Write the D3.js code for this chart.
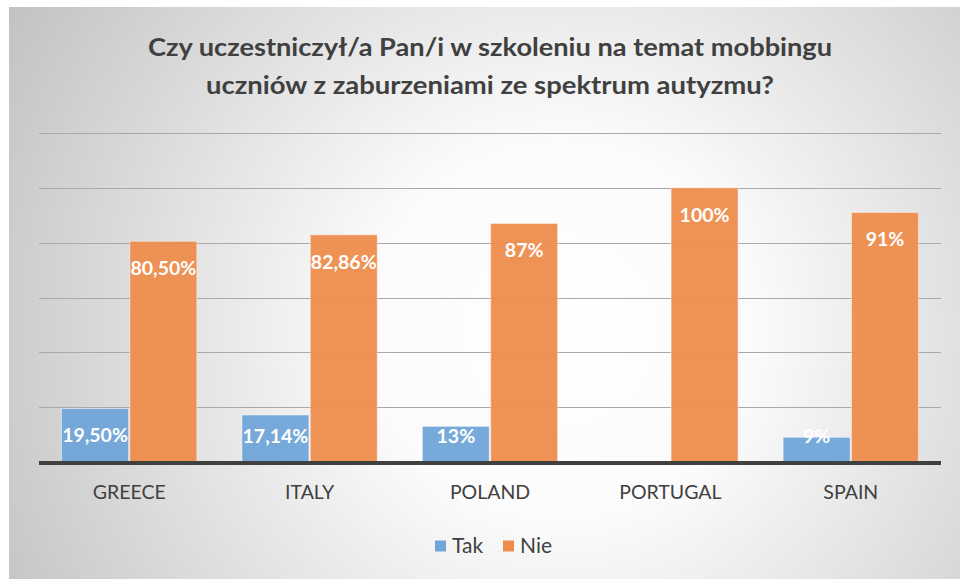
<!DOCTYPE html>
<html>
<head>
<meta charset="utf-8">
<script src="https://cdn.jsdelivr.net/npm/d3@7"></script>
<style>
  html, body { margin: 0; padding: 0; background: #fff; }
  svg { display: block; }
</style>
</head>
<body>
<svg id="chart" width="960" height="579"></svg>
<script>
// Survey answers per country (percent)
const countries = ["GREECE", "ITALY", "POLAND", "PORTUGAL", "SPAIN"];
const takValues = [19.5, 17.14, 13, 0, 9];
const nieValues = [80.5, 82.86, 87, 100, 91];
const takLabels = ["19,50%", "17,14%", "13%", "", "9%"];
const nieLabels = ["80,50%", "82,86%", "87%", "100%", "91%"];
const seriesNames = ["Tak", "Nie"];
const seriesColors = ["#70a5d8", "#ee8c4d"];
const gridTicks = [0, 20, 40, 60, 80, 100, 120];
const titleLines = [
  "Czy uczestniczył/a Pan/i w szkoleniu na temat mobbingu",
  "uczniów z zaburzeniami ze spektrum autyzmu?"
];
const titleWidths = [684, 568];

const svg = d3.select("#chart");
const W = 960, H = 579;
const font = "Lato, 'Open Sans', sans-serif";

// Background panel with soft radial shading
const defs = svg.append("defs");
const grad = defs.append("radialGradient")
  .attr("id", "bg").attr("gradientUnits", "userSpaceOnUse")
  .attr("cx", 560).attr("cy", 330).attr("r", 640);
grad.append("stop").attr("offset", "0%").attr("stop-color", "#ffffff");
grad.append("stop").attr("offset", "30%").attr("stop-color", "#fbfbfb");
grad.append("stop").attr("offset", "100%").attr("stop-color", "#c2c2c2");

svg.append("rect").attr("x", 9).attr("y", 7).attr("width", W - 9).attr("height", H - 7)
  .attr("fill", "url(#bg)");

// Title
svg.append("g").selectAll("text").data(titleLines).join("text")
  .attr("x", 490).attr("y", (d, i) => 56 + i * 38)
  .attr("text-anchor", "middle")
  .attr("font-family", font).attr("font-weight", 700).attr("font-size", 25)
  .attr("fill", "#404040")
  .attr("textLength", (d, i) => titleWidths[i])
  .attr("lengthAdjust", "spacingAndGlyphs")
  .text(d => d);

// Scales
const x0 = d3.scaleBand().domain(countries).range([39, 941]).paddingInner(0.25).paddingOuter(0.125);
const x1 = d3.scaleBand().domain(seriesNames).range([0, x0.bandwidth()]).paddingInner(0.02);
const y = d3.scaleLinear().domain([0, 120]).range([462, 133]);

// Horizontal gridlines
svg.append("g").selectAll("line").data(gridTicks.slice(1)).join("line")
  .attr("x1", 39).attr("x2", 941)
  .attr("y1", d => Math.round(y(d)) + 0.5).attr("y2", d => Math.round(y(d)) + 0.5)
  .attr("stroke", "#a9a9a9").attr("stroke-width", 1.2);

// Bars
const rows = countries.map((c, i) => ({
  country: c,
  values: [
    { key: "Tak", value: takValues[i], label: takLabels[i] },
    { key: "Nie", value: nieValues[i], label: nieLabels[i] }
  ]
}));

const groups = svg.append("g").selectAll("g").data(rows).join("g")
  .attr("transform", d => `translate(${x0(d.country)},0)`);

groups.selectAll("rect").data(d => d.values.filter(v => v.value > 0)).join("rect")
  .attr("x", d => x1(d.key))
  .attr("width", x1.bandwidth())
  .attr("y", d => y(d.value))
  .attr("height", d => y(0) - y(d.value))
  .attr("fill", (d, i) => seriesColors[seriesNames.indexOf(d.key)])
  .attr("fill-opacity", 0.95)
  .attr("stroke", "#ffffff").attr("stroke-opacity", 0.45).attr("stroke-width", 1);

// Value labels, placed just inside the top of each bar
groups.selectAll("text").data(d => d.values.filter(v => v.label)).join("text")
  .attr("x", d => x1(d.key) + x1.bandwidth() / 2)
  .attr("y", d => Math.min(y(d.value) + 27, y(0) - 26))
  .attr("dy", "0.35em")
  .attr("text-anchor", "middle")
  .attr("font-family", font).attr("font-weight", 700).attr("font-size", 19.5)
  .attr("fill", "#ffffff")
  .text(d => d.label);

// Baseline axis
svg.append("line")
  .attr("x1", 39).attr("x2", 941).attr("y1", 463).attr("y2", 463)
  .attr("stroke", "#404040").attr("stroke-width", 4);

// Category labels
const xAxis = d3.axisBottom(x0).tickSize(0).tickPadding(0);
const ax = svg.append("g").attr("transform", "translate(0,492)").call(xAxis);
ax.select(".domain").remove();
ax.selectAll("text")
  .attr("dy", "0.35em").attr("y", 0)
  .attr("font-family", font).attr("font-size", 19.5).attr("fill", "#404040");

// Legend
const legend = svg.append("g").attr("transform", "translate(435,546)");
const legendX = [0, 68];
seriesNames.forEach((name, i) => {
  const g = legend.append("g").attr("transform", `translate(${legendX[i]},0)`);
  g.append("rect").attr("x", 0).attr("y", -5.5).attr("width", 11).attr("height", 11)
    .attr("fill", seriesColors[i]);
  g.append("text").attr("x", 17).attr("y", 0).attr("dy", "0.35em")
    .attr("font-family", font).attr("font-size", 21).attr("fill", "#404040")
    .text(name);
});
</script>
</body>
</html>
